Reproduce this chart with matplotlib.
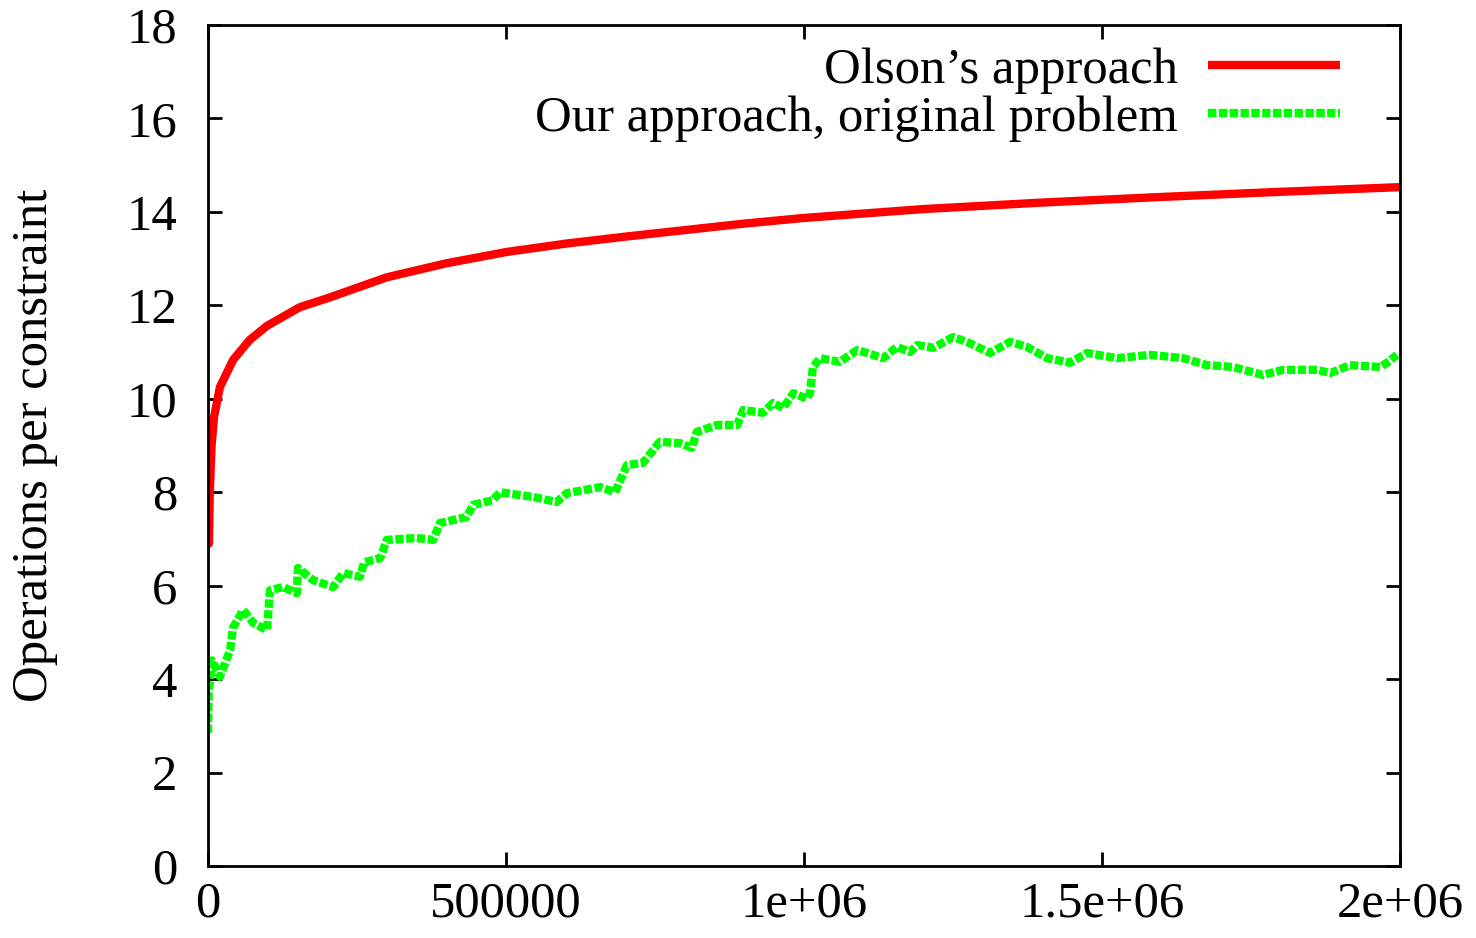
import matplotlib
matplotlib.use("Agg")
import matplotlib.pyplot as plt

# ---- data ----
olson_x = [0, 1500, 3000, 6000, 10000, 20000, 42000, 70000, 99000, 154000, 200000,
           300000, 400000, 500000, 600000, 700000, 800000, 900000, 1000000,
           1200000, 1400000, 1600000, 1800000, 2000000]
olson_y = [8.5, 6.9, 8.0, 9.0, 9.6, 10.25, 10.83, 11.26, 11.56, 11.96, 12.15,
           12.6, 12.9, 13.14, 13.32, 13.47, 13.61, 13.75, 13.87,
           14.06, 14.2, 14.32, 14.43, 14.53]

ours_x = [0, 1000, 6700, 20000, 37000, 42000, 59000, 76000, 99000, 104000, 126000,
          149000, 151000, 176000, 210000, 227000, 255000, 262000, 289000, 300000,
          350000, 378000, 389000, 434000, 445000, 478000, 490000, 545000, 585000,
          602000, 658000, 683000, 703000, 730000, 758000, 792000, 812000, 820000,
          854000, 888000, 898000, 931000, 948000, 965000, 982000, 1005000, 1010000,
          1015000, 1027000, 1060000, 1089000, 1106000, 1133000, 1156000, 1178000,
          1190000, 1217000, 1250000, 1273000, 1312000, 1346000, 1374000, 1408000,
          1424000, 1446000, 1475000, 1525000, 1581000, 1636000, 1676000, 1720000,
          1770000, 1804000, 1861000, 1883000, 1916000, 1967000, 1978000, 1995000]
ours_y = [2.85, 3.7, 4.4, 4.05, 4.62, 5.1, 5.48, 5.2, 5.05, 5.9, 5.97,
          5.84, 6.38, 6.12, 5.97, 6.27, 6.19, 6.5, 6.59, 6.98,
          7.02, 6.98, 7.34, 7.47, 7.73, 7.83, 8.0, 7.9, 7.79,
          7.98, 8.11, 8.0, 8.58, 8.63, 9.08, 9.05, 8.95, 9.29,
          9.44, 9.44, 9.76, 9.7, 9.91, 9.8, 10.12, 10.0, 10.12,
          10.68, 10.87, 10.79, 11.04, 10.98, 10.87, 11.11, 11.0,
          11.15, 11.09, 11.32, 11.22, 10.98, 11.22, 11.11, 10.87,
          10.83, 10.77, 10.98, 10.87, 10.94, 10.87, 10.72, 10.68,
          10.51, 10.62, 10.62, 10.55, 10.72, 10.68, 10.77, 10.94]

x_ticks = [0, 500000, 1000000, 1500000, 2000000]
x_tick_labels = ["0", "500000", "1e+06", "1.5e+06", "2e+06"]
y_ticks = [0, 2, 4, 6, 8, 10, 12, 14, 16, 18]

labels = ["Olson\u2019s approach", "Our approach, original problem"]
ylabel = "Operations per constraint"

# ---- figure ----
plt.rcParams['font.family'] = ['Liberation Serif', 'DejaVu Serif']
FS = 36.5

fig = plt.figure(figsize=(14.76, 9.38), dpi=100)
ax = fig.add_axes([208/1476, (938-866)/938, (1400-208)/1476, (866-25)/938])

ax.plot(olson_x, olson_y, color='#ff0000', lw=6, solid_capstyle='butt',
        label=labels[0])
ax.plot(ours_x, ours_y, color='#00ff00', lw=6, linestyle=(0, (1.0, 0.3)),
        dash_capstyle='butt', label=labels[1])

ax.set_xlim(0, 2000000)
ax.set_ylim(0, 18)
ax.set_xticks(x_ticks)
ax.set_xticklabels(x_tick_labels)
ax.set_yticks(y_ticks)

for s in ax.spines.values():
    s.set_linewidth(2)
ax.tick_params(direction='in', length=10, width=2, top=True, right=True,
               labelsize=FS)
ax.tick_params(axis='y', pad=22)
ax.tick_params(axis='x', pad=11)

ax.set_ylabel(ylabel, fontsize=FS)
ax.yaxis.set_label_coords(-0.126, 0.5)

leg = ax.legend(loc='upper right', bbox_to_anchor=((1340-208)/1192, (866-47)/841),
                frameon=False, fontsize=FS, markerfirst=False,
                handlelength=2.6, handletextpad=0.6, labelspacing=0.03,
                borderpad=0, borderaxespad=0)

fig.savefig("out.png", dpi=100)
